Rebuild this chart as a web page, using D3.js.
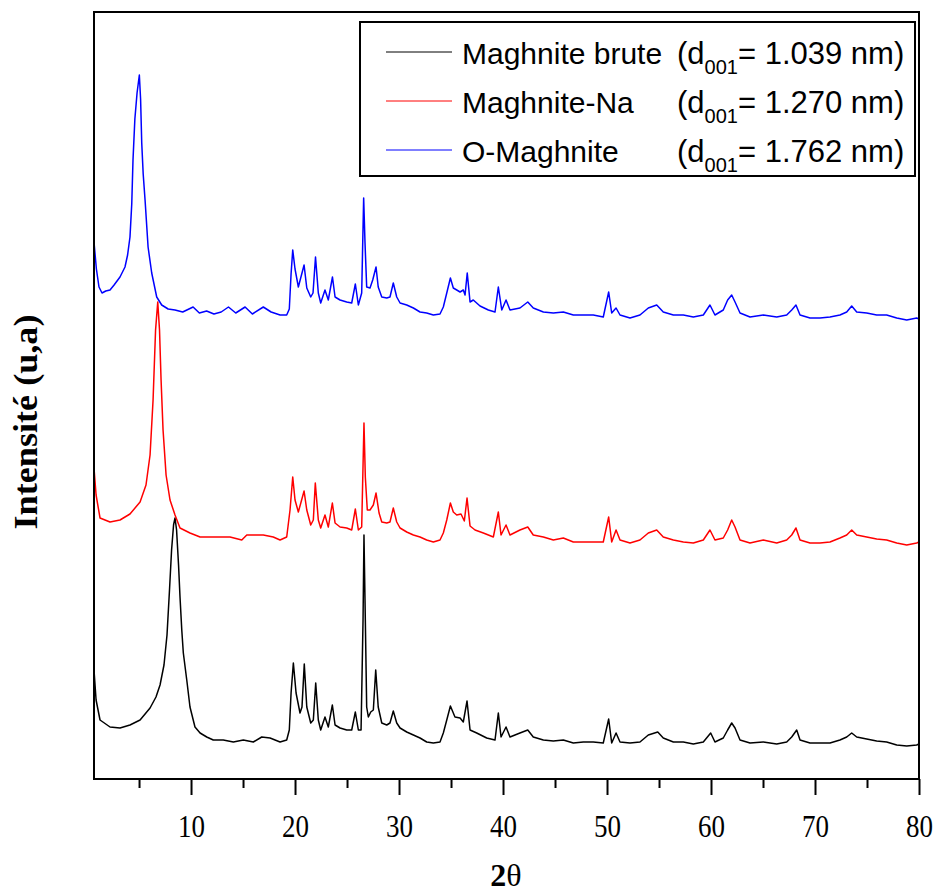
<!DOCTYPE html>
<html>
<head>
<meta charset="utf-8">
<script src="https://cdn.jsdelivr.net/npm/d3@7/dist/d3.min.js"></script>
<style>
  html, body { margin: 0; padding: 0; background: #fff; }
  svg { display: block; }
</style>
</head>
<body>
<div id="chart"></div>
<script>
// XRD patterns, 2θ (deg) vs intensity (a.u., stacked as plotted)
var majorTicks = [10, 20, 30, 40, 50, 60, 70, 80];
var minorTicks = [5, 15, 25, 35, 45, 55, 65, 75];

var seriesNames = ['Maghnite brute', 'Maghnite-Na', 'O-Maghnite'];
var seriesD001 = ['1.039', '1.270', '1.762'];
var seriesColors = ['#000000', '#ff0000', '#0000ff'];

var brutePts = [
  [0.67,109],[0.87,79],[1.25,59],[2.21,52],[3.17,51],[4.13,54],[5.1,59],[6.06,71],[6.63,82],[7.02,94],
  [7.4,114],[7.69,144],[7.93,189],[8.13,229],[8.32,254],[8.46,261],[8.61,249],[8.8,214],[8.94,182],[9.11,149],
  [9.26,126],[9.59,99],[9.9,72],[10.38,52],[10.87,46],[11.51,42],[12.14,39],[13.1,39],[14.07,37],[15.03,39],
  [15.99,37],[16.8,42],[17.6,41],[18.56,37],[19.2,39],[19.45,49],[19.62,86],[19.84,116],[20.1,86],[20.48,66],
  [20.67,72],[20.89,115],[21.13,72],[21.51,56],[21.76,59],[21.99,96],[22.24,59],[22.47,49],[22.88,62],[23.2,52],
  [23.59,74],[23.85,54],[24.33,51],[24.97,49],[25.45,49],[25.8,67],[26.09,49],[26.35,49],[26.54,159],[26.63,244],
  [26.76,159],[26.89,72],[27.05,62],[27.28,67],[27.53,69],[27.76,109],[28.0,72],[28.34,56],[28.82,54],[29.13,56],
  [29.45,68],[29.78,56],[30.1,51],[30.74,47],[31.38,44],[32.02,41],[32.66,37],[33.3,36],[33.94,37],[34.26,46],
  [34.59,59],[34.94,73],[35.38,62],[35.87,61],[36.18,57],[36.54,78],[36.83,49],[37.47,46],[38.43,41],[39.23,39],
  [39.55,66],[39.81,42],[40.29,52],[40.67,42],[41.63,46],[42.38,49],[42.91,42],[43.88,39],[44.84,38],[45.8,39],
  [46.76,36],[47.72,37],[48.68,37],[49.64,36],[50.16,60],[50.45,36],[50.87,46],[51.25,37],[52.21,36],[53.17,37],
  [53.97,44],[54.88,47],[55.41,41],[56.38,37],[57.34,37],[58.3,35],[59.26,37],[59.97,46],[60.38,37],[61.18,41],
  [61.6,49],[61.99,56],[62.31,51],[62.79,39],[63.75,36],[65.03,37],[66.32,35],[67.28,37],[67.76,42],[68.24,49],
  [68.56,39],[69.52,36],[70.48,36],[71.44,36],[72.4,39],[73.05,42],[73.53,46],[74.01,42],[74.97,40],[75.93,38],
  [76.89,37],[77.86,34],[78.82,33],[79.78,34],[80,35]
];

var naPts = [
  [0.67,311],[0.87,284],[1.25,261],[2.21,257],[3.17,259],[4.13,265],[5.1,277],[5.67,294],[6.06,324],[6.35,379],
  [6.59,449],[6.8,477],[6.97,449],[7.12,399],[7.31,349],[7.6,304],[7.98,279],[8.46,264],[8.94,251],[9.9,246],
  [10.87,242],[12.12,242],[13.75,242],[14.88,239],[15.36,244],[16.95,244],[17.91,242],[18.56,239],[19.2,242],[19.52,269],
  [19.78,302],[20.0,279],[20.32,267],[20.87,288],[21.13,269],[21.51,254],[21.76,259],[21.95,296],[22.24,259],[22.47,251],
  [22.88,264],[23.2,252],[23.59,276],[23.85,256],[24.33,252],[24.97,251],[25.45,249],[25.8,270],[26.09,249],[26.41,252],
  [26.63,356],[26.76,302],[26.95,269],[27.21,269],[27.53,274],[27.79,286],[28.08,266],[28.34,257],[28.82,256],[29.13,257],
  [29.45,271],[29.78,257],[30.1,251],[30.74,247],[31.38,244],[32.02,242],[32.66,239],[33.3,237],[33.94,239],[34.26,246],
  [34.59,259],[34.94,276],[35.22,267],[35.55,264],[35.96,265],[36.28,258],[36.54,281],[36.83,253],[37.31,249],[38.11,246],
  [39.07,242],[39.55,267],[39.81,244],[40.29,254],[40.67,244],[41.63,249],[42.38,252],[42.91,244],[43.88,242],[44.84,239],
  [45.8,241],[46.76,237],[47.72,237],[48.68,237],[49.64,237],[50.16,262],[50.45,237],[50.87,249],[51.25,239],[52.21,236],
  [53.17,239],[53.97,246],[54.78,249],[55.41,242],[56.38,239],[57.34,237],[58.3,236],[59.26,239],[59.9,249],[60.38,239],
  [61.18,241],[61.6,249],[61.99,259],[62.31,252],[62.79,239],[63.75,236],[65.03,239],[66.32,236],[67.28,239],[67.76,244],
  [68.17,251],[68.56,239],[69.52,236],[70.48,236],[71.44,237],[72.4,241],[73.05,244],[73.53,249],[74.01,244],[74.97,242],
  [75.93,240],[76.89,239],[77.86,236],[78.82,234],[79.78,236],[80,237]
];

var oPts = [
  [0.67,537],[0.9,510],[1.15,492],[1.44,486],[1.8,488],[2.21,489],[2.6,494],[3.17,502],[3.65,512],[3.9,524],
  [4.13,542],[4.3,575],[4.42,619],[4.6,660],[4.81,686],[5.03,704],[5.15,680],[5.26,636],[5.4,605],[5.58,579],
  [5.87,532],[6.22,506],[6.7,482],[7.18,474],[7.8,470],[8.46,469],[9.2,467],[10.2,472],[10.8,466],[11.5,468],
  [12.2,465],[12.9,467],[13.6,472],[14.3,466],[15.2,472],[15.9,465],[16.95,472],[17.7,467],[18.56,464],[19.2,464],
  [19.45,470],[19.62,505],[19.78,529],[20.0,510],[20.32,492],[20.87,514],[21.13,491],[21.51,482],[21.73,486],[21.97,522],
  [22.24,486],[22.47,476],[22.88,489],[23.2,479],[23.6,502],[23.85,482],[24.33,479],[24.97,477],[25.45,476],[25.8,495],
  [26.09,474],[26.41,486],[26.6,581],[26.73,536],[26.89,492],[27.21,491],[27.47,499],[27.79,512],[28.0,492],[28.34,482],
  [28.82,481],[29.13,482],[29.45,496],[29.78,482],[30.1,476],[30.74,474],[31.38,471],[32.02,467],[32.66,466],[33.3,464],
  [33.94,465],[34.26,472],[34.59,486],[34.94,501],[35.22,491],[35.55,489],[35.87,487],[36.18,489],[36.35,484],[36.56,506],
  [36.83,477],[37.14,479],[37.79,473],[38.59,469],[39.23,467],[39.55,492],[39.88,469],[40.29,479],[40.67,469],[41.63,471],
  [42.38,477],[42.91,471],[43.88,467],[44.84,466],[45.8,467],[46.76,464],[47.72,464],[48.68,464],[49.64,462],[50.16,487],
  [50.45,466],[50.87,471],[51.25,464],[52.21,461],[53.17,464],[53.97,471],[54.78,474],[55.41,467],[56.38,464],[57.34,464],
  [58.3,462],[59.26,464],[59.9,474],[60.38,464],[61.18,469],[61.6,479],[61.99,484],[62.31,477],[62.79,466],[63.75,462],
  [65.03,464],[66.32,462],[67.28,464],[67.76,469],[68.17,474],[68.56,464],[69.52,461],[70.48,461],[71.44,462],[72.4,464],
  [73.05,467],[73.53,473],[74.01,467],[74.97,466],[75.93,464],[76.89,464],[77.86,461],[78.82,459],[79.78,461],[80,460]
];

(function () {
  'use strict';
  var W = 938, H = 896;
  var M = { left: 94, right: 919, top: 12, bottom: 779 };
  var serif = '"Liberation Serif", "Times New Roman", serif';
  var sans = '"Liberation Sans", Arial, sans-serif';

  var svg = d3.select('#chart').append('svg')
    .attr('width', W).attr('height', H)
    .attr('viewBox', [0, 0, W, H]);

  var x = d3.scaleLinear().domain([0.67, 80]).range([M.left, M.right]);
  var y = d3.scaleLinear().domain([0, 767]).range([M.bottom, M.top]);

  svg.append('defs').append('clipPath').attr('id', 'plot-clip')
    .append('rect').attr('x', M.left).attr('y', M.top)
    .attr('width', M.right - M.left).attr('height', M.bottom - M.top);

  var line = d3.line()
    .x(function (d) { return x(d[0]); })
    .y(function (d) { return y(d[1]); });

  svg.append('g').attr('clip-path', 'url(#plot-clip)')
    .selectAll('path').data([brutePts, naPts, oPts]).join('path')
    .attr('d', line)
    .attr('fill', 'none')
    .attr('stroke', function (d, i) { return seriesColors[i]; })
    .attr('stroke-width', 1.5)
    .attr('stroke-linejoin', 'round');

  // bottom axis: major ticks with labels, minor ticks without
  var gMinor = svg.append('g').attr('transform', 'translate(0,' + M.bottom + ')')
    .call(d3.axisBottom(x).tickValues(minorTicks).tickSize(9).tickFormat(''));
  var gMajor = svg.append('g').attr('transform', 'translate(0,' + M.bottom + ')')
    .call(d3.axisBottom(x).tickValues(majorTicks).tickSize(16).tickPadding(18).tickFormat(d3.format('d')));
  [gMinor, gMajor].forEach(function (g) {
    g.select('.domain').remove();
    g.selectAll('.tick line').attr('stroke', '#000').attr('stroke-width', 2);
  });
  gMajor.selectAll('.tick text')
    .attr('fill', '#000')
    .style('font-family', serif)
    .style('font-size', '32px')
    .attr('textLength', 27).attr('lengthAdjust', 'spacingAndGlyphs')
    .attr('dy', '0.74em');

  // frame
  svg.append('rect')
    .attr('x', M.left).attr('y', M.top)
    .attr('width', M.right - M.left).attr('height', M.bottom - M.top)
    .attr('fill', 'none').attr('stroke', '#000').attr('stroke-width', 2);

  // axis titles
  var xt = svg.append('text')
    .attr('x', 506).attr('y', 886)
    .attr('text-anchor', 'middle')
    .style('font-family', serif)
    .style('font-size', '32px');
  xt.append('tspan').style('font-weight', 'bold').text('2');
  xt.append('tspan').text('θ');

  svg.append('text')
    .attr('transform', 'translate(37,422) rotate(-90)')
    .attr('text-anchor', 'middle')
    .style('font-family', serif)
    .style('font-size', '34px').style('font-weight', 'bold')
    .attr('textLength', 215).attr('lengthAdjust', 'spacingAndGlyphs')
    .text('Intensité (u,a)');

  // legend
  var lg = svg.append('g');
  lg.append('rect')
    .attr('x', 360).attr('y', 22).attr('width', 555).attr('height', 154)
    .attr('fill', '#fff').attr('stroke', '#000').attr('stroke-width', 2);
  var rowY = [52, 101, 150];
  seriesNames.forEach(function (name, i) {
    var r = lg.append('g').attr('transform', 'translate(0,' + rowY[i] + ')');
    r.append('line').attr('x1', 386).attr('x2', 452).attr('y1', 0).attr('y2', 0)
      .attr('stroke', seriesColors[i]).attr('stroke-width', 1);
    r.append('text').attr('x', 462).attr('y', 12)
      .style('font-family', sans).style('font-size', '30px')
      .text(name);
    var t = r.append('text').attr('x', 677).attr('y', 12)
      .style('font-family', sans).style('font-size', '31px');
    t.append('tspan').text('(d');
    t.append('tspan').attr('dy', 10).style('font-size', '20px').text('001');
    t.append('tspan').attr('dy', -10).text('= ' + seriesD001[i] + ' nm)');
  });
})();
</script>
</body>
</html>
